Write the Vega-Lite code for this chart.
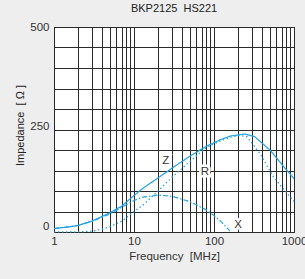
{
  "$schema": "https://vega.github.io/schema/vega-lite/v6.json",
  "width": 240,
  "height": 205,
  "autosize": {"type": "none"},
  "padding": {"left": 54, "top": 27, "right": 11, "bottom": 47},
  "background": "#eeeeee",
  "config": {
    "view": {"fill": "white", "stroke": "#222222", "strokeWidth": 1},
    "font": "Liberation Sans"
  },
  "title": {"text": "BKP2125\u00a0 HS221", "fontSize": 11, "fontWeight": "normal", "color": "#222222", "offset": 7},
  "datasets": {
    "curves": [
      {"s": "Z", "f": 1, "v": 9}, {"s": "Z", "f": 1.5, "v": 12}, {"s": "Z", "f": 2, "v": 16}, {"s": "Z", "f": 3, "v": 27},
      {"s": "Z", "f": 4, "v": 38}, {"s": "Z", "f": 5, "v": 47}, {"s": "Z", "f": 7, "v": 63}, {"s": "Z", "f": 10, "v": 89},
      {"s": "Z", "f": 13, "v": 107}, {"s": "Z", "f": 20, "v": 132}, {"s": "Z", "f": 30, "v": 156}, {"s": "Z", "f": 50, "v": 185},
      {"s": "Z", "f": 80, "v": 209}, {"s": "Z", "f": 120, "v": 225}, {"s": "Z", "f": 160, "v": 234}, {"s": "Z", "f": 240, "v": 239},
      {"s": "Z", "f": 320, "v": 233}, {"s": "Z", "f": 500, "v": 200}, {"s": "Z", "f": 800, "v": 152}, {"s": "Z", "f": 1000, "v": 130},
      {"s": "R", "f": 1, "v": 0}, {"s": "R", "f": 2, "v": 0.5}, {"s": "R", "f": 3, "v": 2}, {"s": "R", "f": 4, "v": 7},
      {"s": "R", "f": 5, "v": 13}, {"s": "R", "f": 7, "v": 26}, {"s": "R", "f": 10, "v": 50}, {"s": "R", "f": 13, "v": 66},
      {"s": "R", "f": 20, "v": 100}, {"s": "R", "f": 30, "v": 134}, {"s": "R", "f": 50, "v": 172}, {"s": "R", "f": 80, "v": 206},
      {"s": "R", "f": 120, "v": 222}, {"s": "R", "f": 160, "v": 231}, {"s": "R", "f": 210, "v": 236}, {"s": "R", "f": 260, "v": 232},
      {"s": "R", "f": 380, "v": 190}, {"s": "R", "f": 550, "v": 135}, {"s": "R", "f": 800, "v": 97}, {"s": "R", "f": 1000, "v": 75},
      {"s": "X", "f": 1, "v": 8}, {"s": "X", "f": 2, "v": 16}, {"s": "X", "f": 3, "v": 26}, {"s": "X", "f": 5, "v": 44},
      {"s": "X", "f": 7, "v": 60}, {"s": "X", "f": 10, "v": 77}, {"s": "X", "f": 13, "v": 85}, {"s": "X", "f": 20, "v": 90},
      {"s": "X", "f": 30, "v": 87}, {"s": "X", "f": 50, "v": 74}, {"s": "X", "f": 80, "v": 54}, {"s": "X", "f": 100, "v": 40},
      {"s": "X", "f": 120, "v": 27}, {"s": "X", "f": 140, "v": 13}, {"s": "X", "f": 160, "v": 2}
    ],
    "labels": [
      {"t": "Z", "f": 25, "v": 174},
      {"t": "R", "f": 77, "v": 146},
      {"t": "X", "f": 200, "v": 17}
    ]
  },
  "encoding": {
    "x": {
      "field": "f", "type": "quantitative",
      "scale": {"type": "log", "domain": [1, 1000], "nice": false},
      "axis": {
        "values": [1,2,3,4,5,6,7,8,9,10,20,30,40,50,60,70,80,90,100,200,300,400,500,600,700,800,900,1000],
        "labelExpr": "(datum.value==1||datum.value==10||datum.value==100||datum.value==1000) ? format(datum.value,'d') : ''",
        "labelOverlap": false, "labelFlush": false, "ticks": false, "domain": false,
        "grid": true, "gridColor": "#2a2a2a", "gridOpacity": 1, "gridWidth": 1,
        "labelFontSize": 11.5, "labelColor": "#333333", "labelPadding": 3,
        "title": "Frequency\u00a0 [MHz]", "titleFontSize": 11.5, "titleFontWeight": "normal", "titleColor": "#333333", "titlePadding": 4
      }
    },
    "y": {
      "field": "v", "type": "quantitative",
      "scale": {"domain": [0, 500], "nice": false, "zero": false},
      "axis": {
        "values": [0,50,100,150,200,250,300,350,400,450,500],
        "labelExpr": "(datum.value==0||datum.value==250||datum.value==500) ? format(datum.value,'d') : ''",
        "labelOverlap": false, "labelFlush": false, "ticks": false, "domain": false,
        "grid": true, "gridColor": "#2a2a2a", "gridOpacity": 1, "gridWidth": 1,
        "labelFontSize": 11.5, "labelColor": "#333333", "labelPadding": 5,
        "labelOffset": {"expr": "datum.value == 0 ? -6 : datum.value == 250 ? -3 : 0"},
        "title": "Impedance\u00a0 [\u00a0\u03a9\u00a0]", "titleFontSize": 11, "titleFontWeight": "normal", "titleColor": "#222222",
        "titleX": -34, "titleY": 98, "titleAngle": -90, "titleAlign": "center", "titleBaseline": "middle"
      }
    }
  },
  "layer": [
    {
      "data": {"name": "curves"},
      "mark": {"type": "line", "color": "#22a2e2", "strokeWidth": 1.2},
      "encoding": {
        "detail": {"field": "s"},
        "strokeDash": {
          "field": "s", "type": "nominal",
          "scale": {"domain": ["Z", "R", "X"], "range": [[1, 0], [1.5, 2.5], [5, 2, 1.5, 2]]},
          "legend": null
        }
      }
    },
    {
      "data": {"name": "labels"},
      "mark": {"type": "text", "fontSize": 11.5, "stroke": "white", "strokeWidth": 5, "fill": "white"},
      "encoding": {"text": {"field": "t"}}
    },
    {
      "data": {"name": "labels"},
      "mark": {"type": "text", "fontSize": 11.5, "color": "#333333"},
      "encoding": {"text": {"field": "t"}}
    }
  ]
}
